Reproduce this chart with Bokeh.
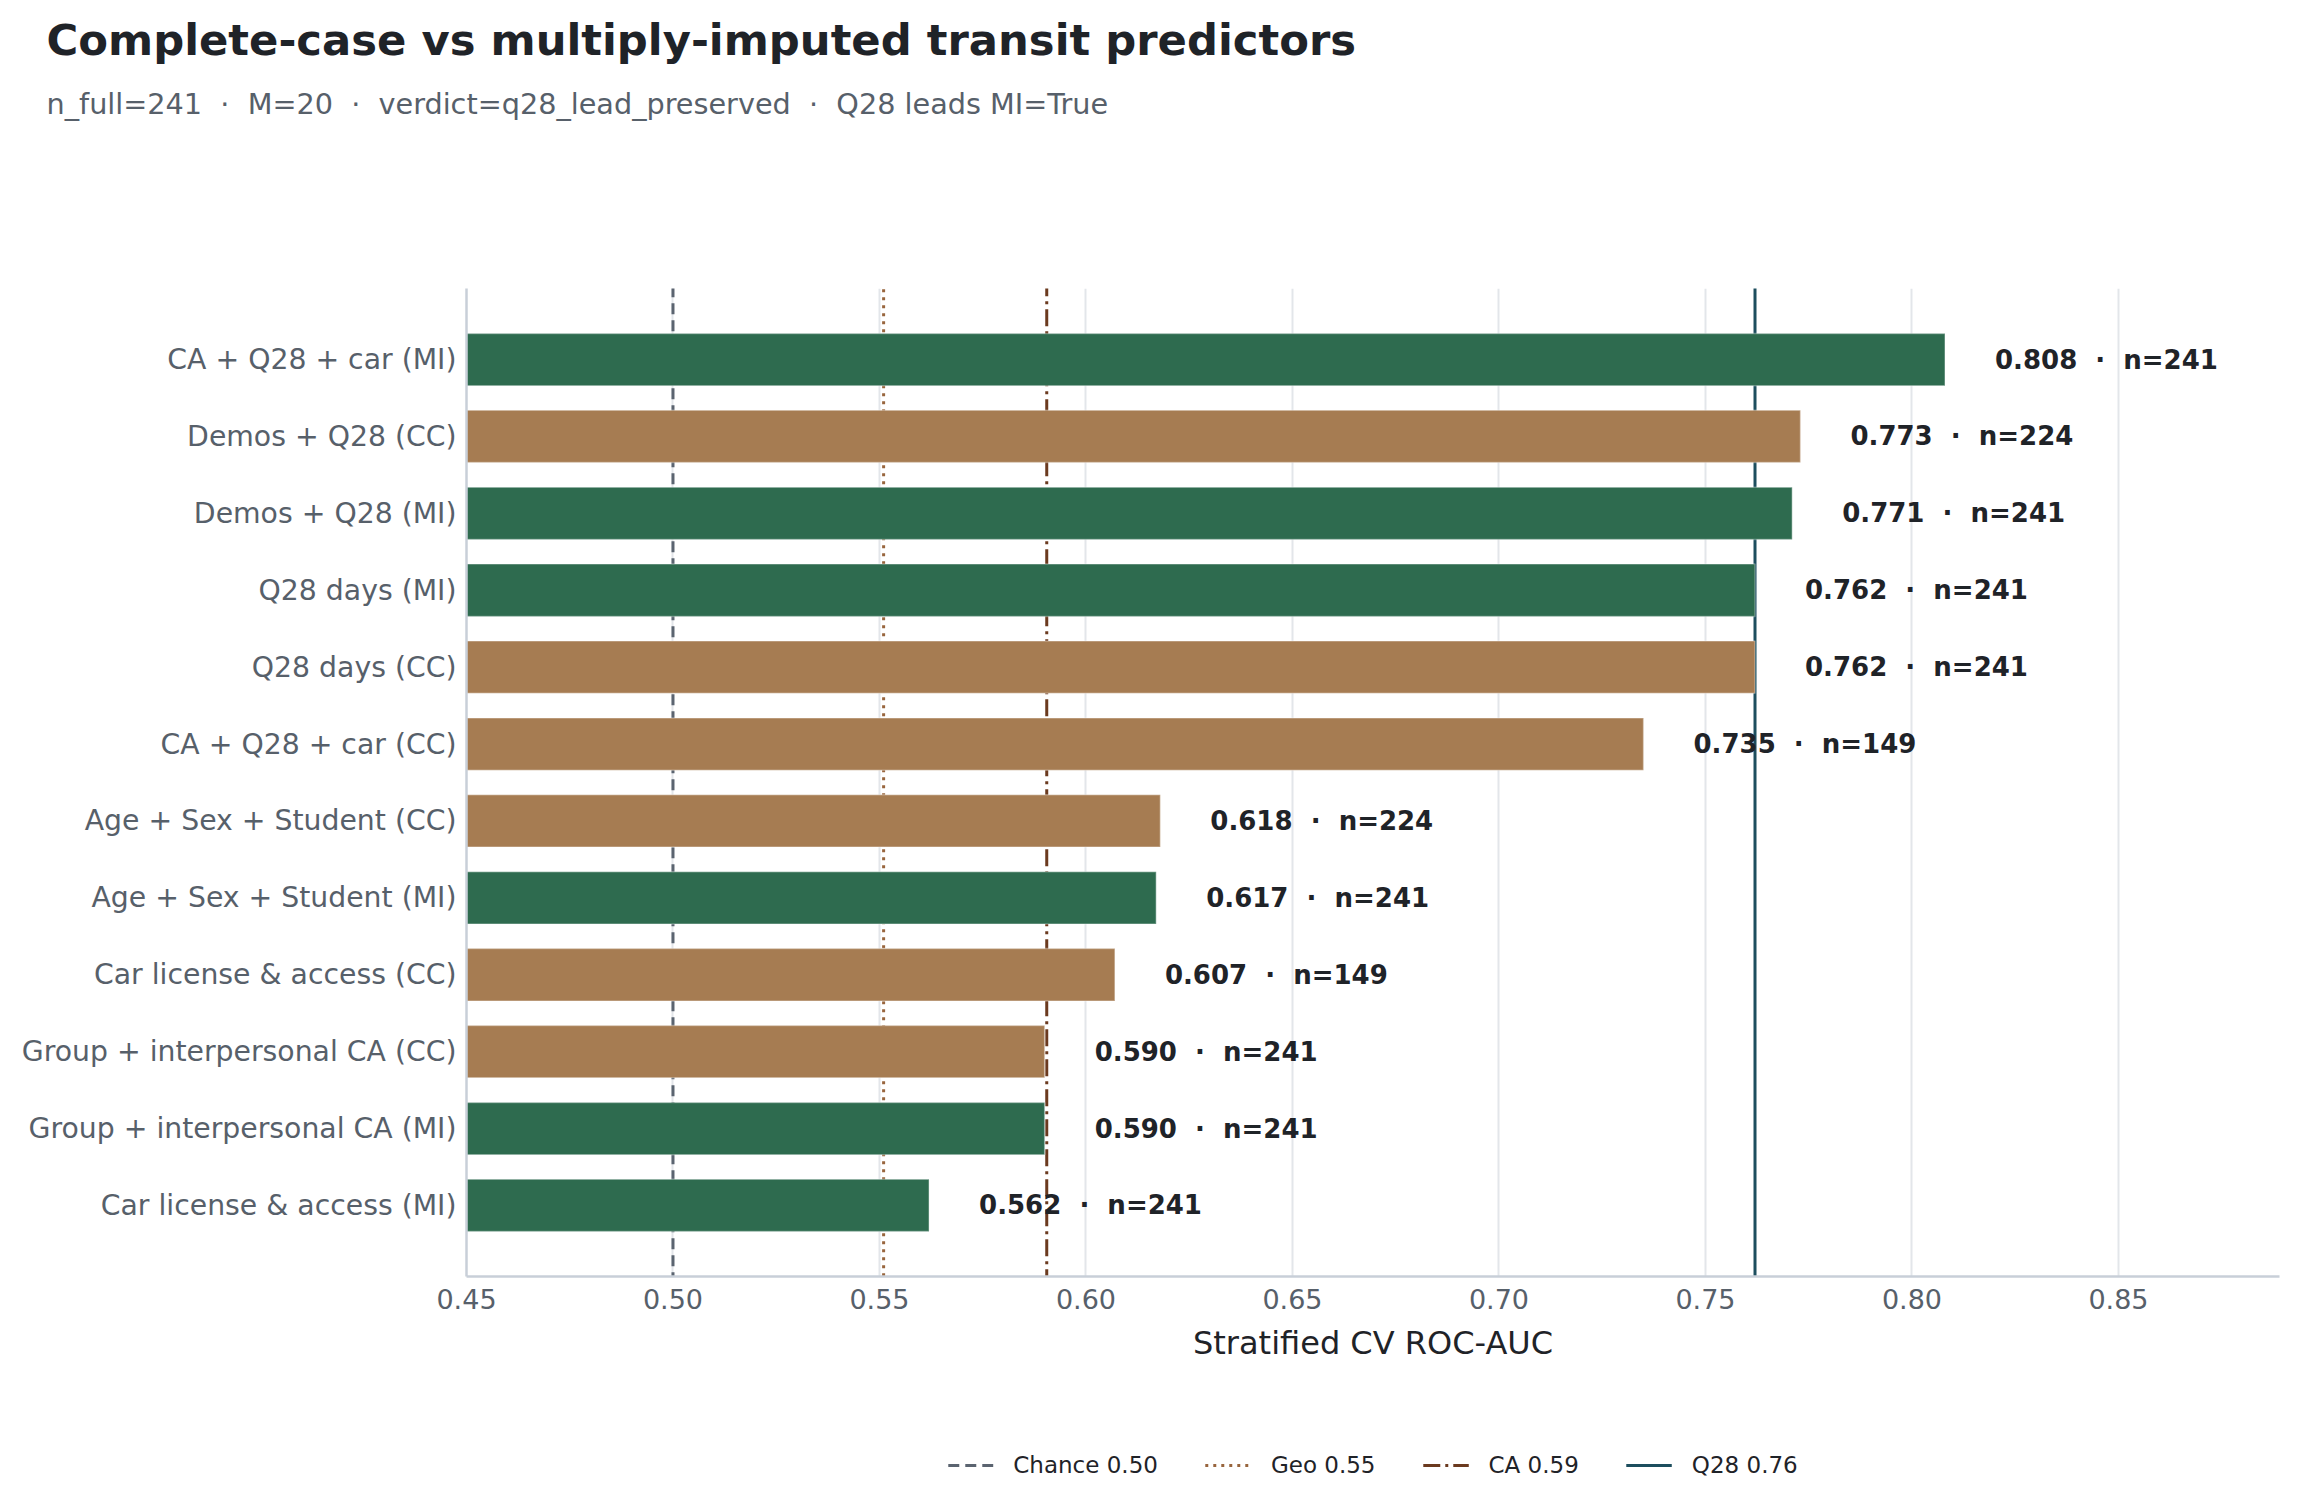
from bokeh.plotting import figure
from bokeh.layouts import column
from bokeh.models import (Range1d, FixedTicker, PrintfTickFormatter, Legend, LegendItem,
                          Title, ColumnDataSource)
from bokeh.core.properties import value
from bokeh.embed import file_html
from bokeh.resources import INLINE

# ---------------- data ----------------
labels = [
    "CA + Q28 + car (MI)",
    "Demos + Q28 (CC)",
    "Demos + Q28 (MI)",
    "Q28 days (MI)",
    "Q28 days (CC)",
    "CA + Q28 + car (CC)",
    "Age + Sex + Student (CC)",
    "Age + Sex + Student (MI)",
    "Car license & access (CC)",
    "Group + interpersonal CA (CC)",
    "Group + interpersonal CA (MI)",
    "Car license & access (MI)",
]
aucs = [0.808, 0.773, 0.771, 0.762, 0.762, 0.735, 0.618, 0.617, 0.607, 0.590, 0.590, 0.562]
ns = [241, 224, 241, 241, 241, 149, 224, 241, 149, 241, 241, 241]
imputation = ["MI", "CC", "MI", "MI", "CC", "CC", "CC", "MI", "CC", "CC", "MI", "MI"]

ref_names = ["Chance 0.50", "Geo 0.55", "CA 0.59", "Q28 0.76"]
ref_values = [0.500, 0.551, 0.5905, 0.762]

x_ticks = [0.45, 0.50, 0.55, 0.60, 0.65, 0.70, 0.75, 0.80, 0.85]

SEP = "\u00a0 \u00b7\u00a0 "
title_text = "Complete-case vs multiply-imputed transit predictors"
subtitle_text = SEP.join(["n_full=241", "M=20", "verdict=q28_lead_preserved", "Q28 leads MI=True"])
x_label = "Stratified CV ROC-AUC"

# ---------------- styles ----------------
FONT = "DejaVu Sans"
MI_COLOR = "#2e6b4f"
CC_COLOR = "#a67c52"
ref_colors = ["#5b6470", "#98653d", "#6b3a1f", "#1d4e5e"]
ref_dashes = ["11 6", "3 5", "17 5 3 5", "solid"]
DARK = "#1f2328"
GRAY = "#57606a"

W = 2281
H_HEAD, H_MAIN, H_LEG = 200, 1186, 108
BL, BR = 466, 2

n = len(labels)
ypos = [n - 1 - i for i in range(n)]
colors = [MI_COLOR if m == "MI" else CC_COLOR for m in imputation]
texts = [f"{a:.3f}{SEP}n={k}" for a, k in zip(aucs, ns)]
src = ColumnDataSource(dict(y=ypos, auc=aucs, color=colors, label=texts))


def blank(height, **kw):
    f = figure(width=W, height=height, output_backend="svg", toolbar_location=None,
               x_axis_type=None, y_axis_type=None, title=None,
               x_range=Range1d(0, 1), y_range=Range1d(0, 1), **kw)
    f.outline_line_color = None
    f.background_fill_color = "white"
    f.border_fill_color = "white"
    f.grid.grid_line_color = None
    return f


# ---------------- header (title + subtitle as panel titles) ----------------
head = blank(H_HEAD, min_border_left=BL, min_border_right=BR, min_border_top=0,
             min_border_bottom=0)
head.add_layout(Title(text=subtitle_text, text_font=FONT, text_font_size="28.7px",
                      text_font_style="normal", text_color=GRAY, align="left",
                      offset=-420, standoff=17), "above")
head.add_layout(Title(text=title_text, text_font=FONT, text_font_size="43.3px",
                      text_font_style="bold", text_color=DARK, align="left",
                      offset=-420, standoff=24), "above")

# ---------------- main chart ----------------
p = figure(width=W, height=H_MAIN, output_backend="svg", toolbar_location=None,
           title=None,
           x_range=Range1d(0.45, 0.889), y_range=Range1d(-0.924, n - 1 + 0.924),
           min_border_left=BL, min_border_right=BR, min_border_top=88, min_border_bottom=110)
p.outline_line_color = None
p.background_fill_color = "white"
p.border_fill_color = "white"

# reference lines (behind bars)
for v, c, d in zip(ref_values, ref_colors, ref_dashes):
    p.line(x=[v, v], y=[-3, n + 2], line_color=c, line_width=3, line_dash=d)

p.hbar(y="y", right="auc", left=0, height=0.68, fill_color="color",
       line_color="white", line_alpha=0.3, line_width=1.5, source=src)

p.text(x="auc", y="y", text="label", x_offset=50, text_align="left", text_baseline="middle",
       text_font=value(FONT), text_font_size="26px", text_font_style="bold",
       text_color=DARK, source=src)

p.xaxis.ticker = FixedTicker(ticks=x_ticks)
p.xaxis.formatter = PrintfTickFormatter(format="%.2f")
p.xaxis.axis_label = x_label
p.xaxis.axis_label_text_font = FONT
p.xaxis.axis_label_text_font_size = "32px"
p.xaxis.axis_label_text_font_style = "normal"
p.xaxis.axis_label_text_color = DARK
p.xaxis.axis_label_standoff = 12
p.xaxis.major_label_text_font = FONT
p.xaxis.major_label_text_font_size = "27px"
p.xaxis.major_label_text_color = GRAY
p.xaxis.major_label_standoff = 12

p.yaxis.ticker = FixedTicker(ticks=ypos)
p.yaxis.major_label_overrides = {y: lab for y, lab in zip(ypos, labels)}
p.yaxis.major_label_text_font = FONT
p.yaxis.major_label_text_font_size = "28.3px"
p.yaxis.major_label_text_color = GRAY
p.yaxis.major_label_standoff = 10

for ax in (p.xaxis, p.yaxis):
    ax.axis_line_color = "#c8cfd8"
    ax.axis_line_width = 2.5
    ax.major_tick_line_color = None
    ax.minor_tick_line_color = None
    ax.major_tick_out = 0
    ax.major_tick_in = 0
    ax.minor_tick_out = 0

p.xgrid.ticker = FixedTicker(ticks=x_ticks)
p.xgrid.grid_line_color = "#e3e6ea"
p.xgrid.grid_line_width = 2
p.ygrid.grid_line_color = None

# ---------------- legend strip ----------------
leg = blank(H_LEG, min_border_left=BL, min_border_right=BR, min_border_top=50,
            min_border_bottom=0)
items = []
for name, c, d in zip(ref_names, ref_colors, ref_dashes):
    r = leg.line(x=[-2, -1], y=[-2, -2], line_color=c, line_width=3, line_dash=d)
    items.append(LegendItem(label=name, renderers=[r]))
legend = Legend(items=items, orientation="horizontal", location="center",
                glyph_width=46, glyph_height=20, label_standoff=20, spacing=47,
                label_text_font=FONT, label_text_font_size="23px", label_text_color=DARK,
                border_line_color=None, background_fill_alpha=0, margin=0, padding=6)
leg.add_layout(legend, "center")

layout = column(head, p, leg, spacing=0)
open("out.html", "w").write(file_html(layout, INLINE))
